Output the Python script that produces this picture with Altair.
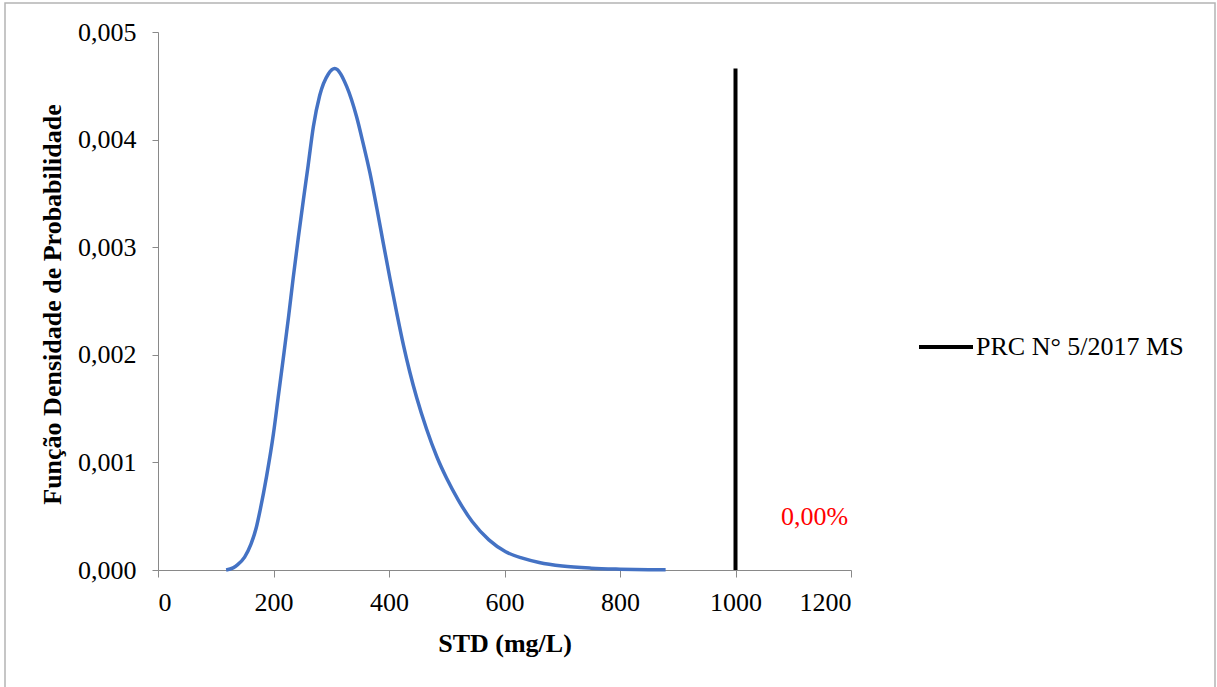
import altair as alt
import pandas as pd

# Curve
std_x = [118, 130, 138, 150, 161, 170, 177, 188, 200, 208, 217, 226, 234, 243, 252,
         260, 269, 280, 295, 306, 327, 344, 355, 367, 379, 390, 402, 413, 425, 436,
         448, 465, 483, 500, 520, 544, 573, 602, 631, 660, 700, 750, 800, 850, 879]
pdf_y = [0.0, 0.00002, 0.00005, 0.00012, 0.00024, 0.00039, 0.00056, 0.00087, 0.00127,
         0.00160, 0.00197, 0.00235, 0.00271, 0.00309, 0.00345, 0.00376, 0.00412,
         0.00441, 0.00461, 0.00466, 0.00449, 0.00421, 0.00397, 0.00369, 0.00336,
         0.00304, 0.00270, 0.00240, 0.00209, 0.00184, 0.00160, 0.00131, 0.00105,
         0.00085, 0.00065, 0.00045, 0.00028, 0.00017, 0.00011, 0.00007, 0.000037,
         0.000017, 0.000008, 0.000003, 0.000002]

limit_x = [1000, 1000]
limit_y = [0.0, 0.00466]
limit_label = ["PRC N° 5/2017 MS", "PRC N° 5/2017 MS"]

note_x = [1137]
note_y = [0.00049]
note_text = ["0,00%"]

x_ticks = [0, 200, 400, 600, 800, 1000, 1200]
y_ticks = [0.0, 0.001, 0.002, 0.003, 0.004, 0.005]

FONT = "Liberation Serif"
FS = 26

curve_df = pd.DataFrame({"x": std_x, "y": pdf_y})
limit_df = pd.DataFrame({"x": limit_x, "y": limit_y, "label": limit_label})
note_df = pd.DataFrame({"x": note_x, "y": note_y, "t": note_text})

xscale = alt.Scale(domain=[0, 1200], nice=False, zero=False)
yscale = alt.Scale(domain=[0, 0.005], nice=False)

xaxis = alt.Axis(values=x_ticks, format="d", title="STD (mg/L)", grid=False,
                 labelFontSize=FS, labelFont=FONT, labelColor="black",
                 titleFontSize=FS, titleFont=FONT, titleFontWeight="bold", titleColor="black",
                 titleX=346.5, titleY=73, titleBaseline="middle",
                 labelPadding=12, tickSize=7, domainColor="#898989", tickColor="#898989")
yaxis = alt.Axis(values=y_ticks, labelExpr="replace(format(datum.value, '.3f'), '.', ',')",
                 title="Função Densidade de Probabilidade", grid=False,
                 labelFontSize=FS, labelFont=FONT, labelColor="black",
                 titleFontSize=FS, titleFont=FONT, titleFontWeight="bold", titleColor="black",
                 titleX=-106, titleY=272, titleBaseline="middle", titleAngle=-90,
                 labelPadding=16, tickSize=6, domainColor="#898989", tickColor="#898989")

border = alt.Chart(pd.DataFrame({"a": [0]})).mark_rect(
    fill=None, stroke="#b4b4b4", strokeWidth=1.5
).encode(x=alt.value(-153), x2=alt.value(1057), y=alt.value(-29), y2=alt.value(700))

curve = alt.Chart(curve_df).mark_line(color="#4472C4", strokeWidth=3.5, interpolate="monotone").encode(
    x=alt.X("x:Q", scale=xscale, axis=xaxis),
    y=alt.Y("y:Q", scale=yscale, axis=yaxis),
)

limit = alt.Chart(limit_df).mark_line(strokeWidth=4).encode(
    x=alt.X("x:Q", scale=xscale),
    y=alt.Y("y:Q", scale=yscale),
    color=alt.Color("label:N", scale=alt.Scale(range=["black"]),
                    legend=alt.Legend(title=None, orient="none", legendX=759, legendY=286,
                                      symbolType="stroke", symbolSize=2916, symbolStrokeWidth=4,
                                      labelFontSize=FS, labelFont=FONT, labelColor="black",
                                      labelOffset=1, labelLimit=400)),
)

note = alt.Chart(note_df).mark_text(color="#ff0000", fontSize=FS, font=FONT,
                                    align="center", baseline="middle").encode(
    x=alt.X("x:Q", scale=xscale),
    y=alt.Y("y:Q", scale=yscale),
    text="t:N",
)

chart = alt.layer(border, curve, limit, note).properties(
    width=693, height=538,
    autosize=alt.AutoSizeParams(type="none"),
    padding={"left": 158, "top": 32, "right": 366, "bottom": 117},
    background="white",
).configure_view(stroke=None)

chart.save("out.html", embed_options={"renderer": "svg", "actions": False})
